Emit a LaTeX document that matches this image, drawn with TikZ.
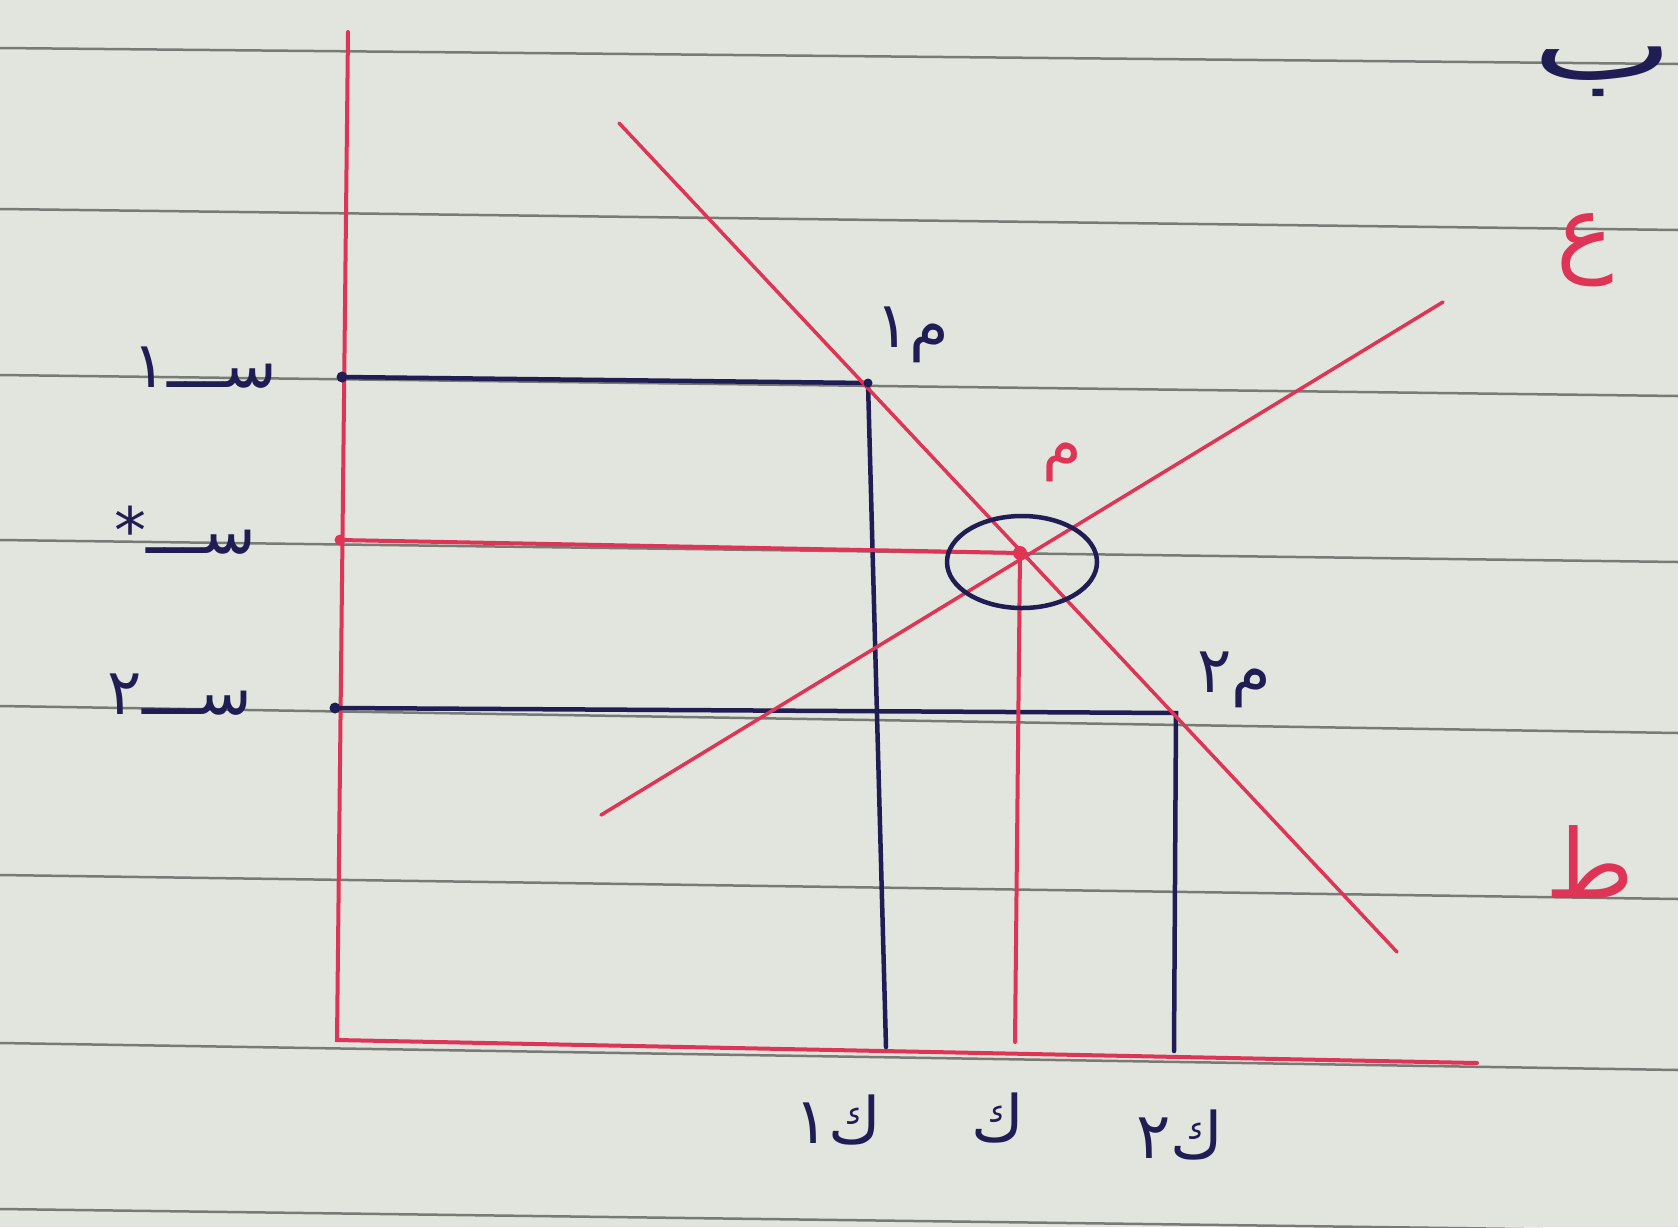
\documentclass[tikz,border=0pt]{standalone}
\usepackage{fontspec}
\usetikzlibrary{shapes.geometric}
\newfontfamily\arabicfont[Script=Arabic]{DejaVu Sans}
\TeXXeTstate=1
\definecolor{paper}{RGB}{226,229,221}
\definecolor{rule}{RGB}{120,122,118}
\definecolor{ink}{RGB}{32,28,84}
\definecolor{redink}{RGB}{222,52,86}
\tikzset{
  paperline/.style={rule, line width=2.5pt},
  redline/.style={redink, line width=4pt, line cap=round},
  blueline/.style={ink, line width=4.5pt, line cap=round},
  lbl/.style={ink, font=\arabicfont\fontsize{64}{70}\selectfont, inner sep=0pt},
  rlbl/.style={redink, font=\arabicfont\fontsize{96}{100}\selectfont, inner sep=0pt},
  dot/.style={circle, fill=ink, inner sep=0pt, minimum size=11pt}
}
\begin{document}
\begin{tikzpicture}[x=1pt,y=-1pt]
\fill[paper] (0,0) rectangle (1678,1227);
\useasboundingbox (0,0) rectangle (1678,1227);
% lined paper
\foreach \a/\b in {48/64,209/230,375/396,540/562,706/733,875/899,1043/1070,1209/1231}
  \draw[paperline] (0,\a) -- (1678,\b);
% coordinates
\coordinate (Ytop) at (348,32);
\coordinate (O) at (337,1040);
\coordinate (Xend) at (1477,1063);
\coordinate (D1) at (619,123);
\coordinate (D2) at (1397,952);
\coordinate (S1) at (601,815);
\coordinate (S2) at (1443,302);
\coordinate (E) at (1020,553);
\coordinate (M1) at (868,383);
\coordinate (M2) at (1176,713);
\coordinate (A1) at (342,377);
\coordinate (Ast) at (340,540);
\coordinate (A2) at (335,708);
\coordinate (B1) at (886,1047);
\coordinate (Bst) at (1015,1042);
\coordinate (B2) at (1174,1051);
% axes
\draw[redline] (Ytop) -- (O) -- (Xend);
% price lines
\draw[blueline] (A1) -- (M1) -- (B1);
\draw[blueline] (A2) -- (M2) -- (B2);
\draw[redline] (Ast) -- (E) -- (Bst);
% demand and supply
\draw[redline, line width=3.5pt] (D1) -- (D2);
\draw[redline, line width=3.5pt] (S1) -- (S2);
% dots
\node[dot] (d1) at (A1) {};
\node[dot] (d2) at (A2) {};
\node[dot, fill=redink] (dst) at (Ast) {};
\node[dot, minimum size=9pt] (dm1) at (M1) {};
\node[circle, fill=redink, inner sep=0pt, minimum size=14pt] (de) at (E) {};
% ellipse
\node[draw=ink, line width=4.5pt, ellipse, minimum width=150pt, minimum height=92pt, inner sep=0pt] (circ) at (1022,562) {};
% labels
\node[lbl] (s1) at (205,368) {\beginR ســـ١\endR};
\node[lbl] (sst) at (185,530) {\beginR ســـ*\endR};
\node[lbl] (s2) at (180,695) {\beginR ســـ٢\endR};
\node[lbl] (m1) at (912,335) {\beginR م١\endR};
\node[lbl, redink] (m) at (1062,462) {\beginR م\endR};
\node[lbl] (m2) at (1234,680) {\beginR م٢\endR};
\node[lbl] (k1) at (838,1120) {\beginR ك١\endR};
\node[lbl] (k) at (998,1118) {\beginR ك\endR};
\node[lbl] (k2) at (1180,1135) {\beginR ك٢\endR};
\node[rlbl] (ain) at (1585,250) {\beginR ع\endR};
\node[rlbl] (taa) at (1590,862) {\beginR ط\endR};
\node[lbl, font=\arabicfont\fontsize{100}{100}\selectfont, xscale=1.5, anchor=east] (baa) at (1674,72) {\beginR ب\endR};
\end{tikzpicture}
\end{document}
